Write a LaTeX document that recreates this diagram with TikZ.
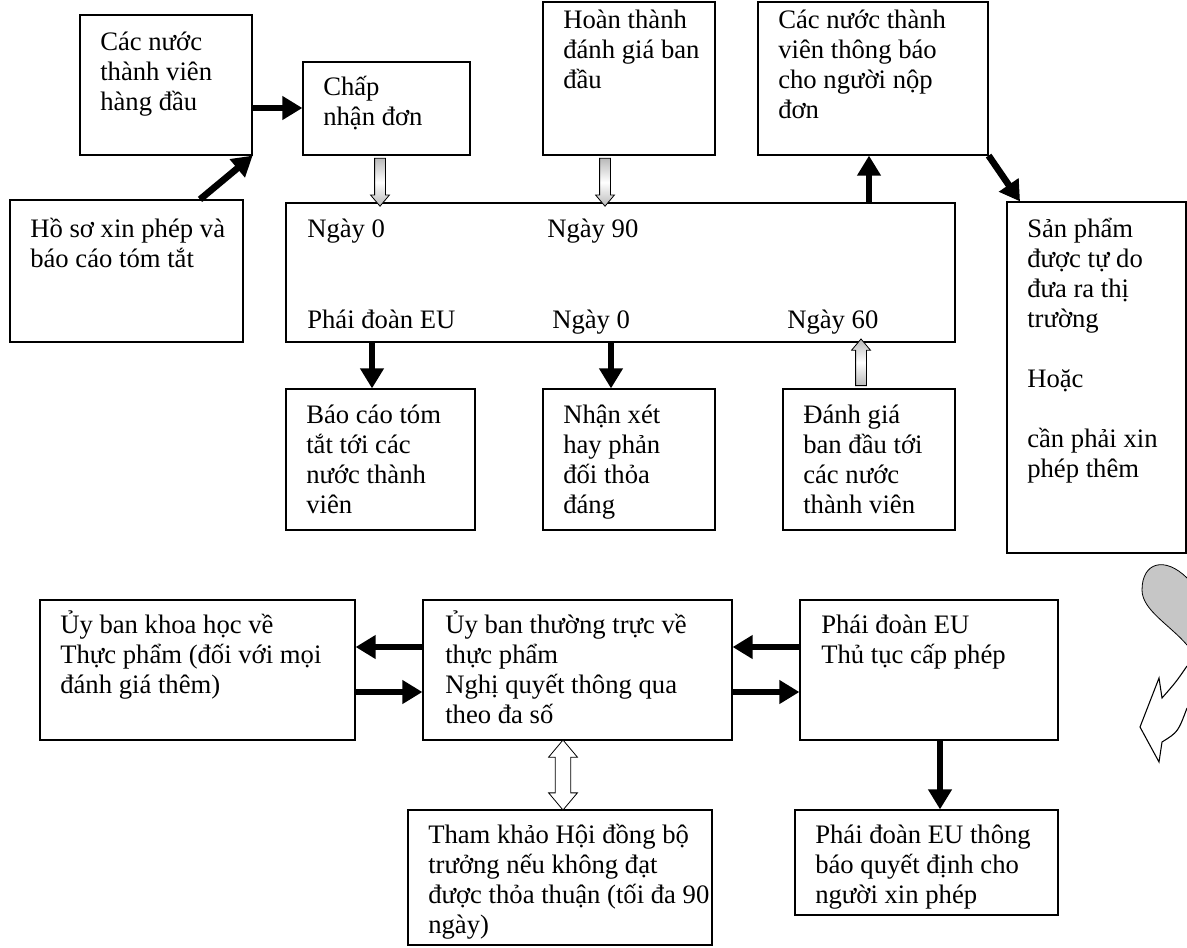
\documentclass[tikz,border=0pt]{standalone}
\usepackage{fontspec}
\setmainfont{Liberation Serif}
\usetikzlibrary{arrows.meta,shapes.arrows,fit,calc}
\newcommand{\lineh}[1]{\hbox{#1}}
\begin{document}
\begin{tikzpicture}[x=0.75pt,y=-0.75pt,
  bx/.style={draw, line width=0.9pt, inner sep=0pt},
  txt/.style={anchor=base west, inner sep=0pt, font=\fontsize{20}{22.5}\selectfont},
  heavy/.style={line width=5pt, -{Triangle[length=15pt,width=17pt]}},
  hv/.style={single arrow, draw, line width=0.6pt, top color=gray!55, bottom color=gray!55, middle color=white, inner xsep=0pt, inner ysep=3.75pt, single arrow head extend=3pt, single arrow tip angle=80},
  hd/.style={double arrow, draw, line width=0.6pt, fill=white, inner xsep=0pt, inner ysep=5.5pt, double arrow head extend=5pt, double arrow tip angle=80},
]
\useasboundingbox (0,0) rectangle (1187,947);

% boxes
\node[bx, fit={(80,15)(252,155)}] (A) {};
\node[bx, fit={(303,62)(470,155)}] (B) {};
\node[bx, fit={(543,2)(715,155)}] (C) {};
\node[bx, fit={(758,2)(988,155)}] (D) {};
\node[bx, fit={(10,200)(243,342)}] (E) {};
\node[bx, fit={(286,203)(955,342)}] (M) {};
\node[bx, fit={(1007,202)(1186,553)}] (S) {};
\node[bx, fit={(286,389)(475,530)}] (P1) {};
\node[bx, fit={(543,389)(715,530)}] (P2) {};
\node[bx, fit={(783,389)(955,530)}] (P3) {};
\node[bx, fit={(40,600)(355,740)}] (L) {};
\node[bx, fit={(423,600)(732,740)}] (Mid) {};
\node[bx, fit={(800,600)(1058,740)}] (R) {};
\node[bx, fit={(408,810)(712,945)}] (T) {};
\node[bx, fit={(795,810)(1058,915)}] (Q) {};

% texts
\node[txt] (tA) at (100,50) {\vtop{\lineh{Các nước}\lineh{thành viên}\lineh{hàng đầu}}};
\node[txt] (tB) at (323,95) {\vtop{\lineh{Chấp}\lineh{nhận đơn}}};
\node[txt] (tC) at (563,28) {\vtop{\lineh{Hoàn thành}\lineh{đánh giá ban}\lineh{đầu}}};
\node[txt] (tD) at (778,28) {\vtop{\lineh{Các nước thành}\lineh{viên thông báo}\lineh{cho người nộp}\lineh{đơn}}};
\node[txt] (tE) at (30,237) {\vtop{\lineh{Hồ sơ xin phép và}\lineh{báo cáo tóm tắt}}};
\node[txt] (m1) at (307,237) {Ngày 0};
\node[txt] (m2) at (547,237) {Ngày 90};
\node[txt] (m3) at (307,328) {Phái đoàn EU};
\node[txt] (m4) at (552,328) {Ngày 0};
\node[txt] (m5) at (787,328) {Ngày 60};
\node[txt] (tS) at (1027,237) {\vtop{\lineh{Sản phẩm}\lineh{được tự do}\lineh{đưa ra thị}\lineh{trường}\lineh{}\lineh{Hoặc}\lineh{}\lineh{cần phải xin}\lineh{phép thêm}}};
\node[txt] (tP1) at (306,423) {\vtop{\lineh{Báo cáo tóm}\lineh{tắt tới các}\lineh{nước thành}\lineh{viên}}};
\node[txt] (tP2) at (563,423) {\vtop{\lineh{Nhận xét}\lineh{hay phản}\lineh{đối thỏa}\lineh{đáng}}};
\node[txt] (tP3) at (803,423) {\vtop{\lineh{Đánh giá}\lineh{ban đầu tới}\lineh{các nước}\lineh{thành viên}}};
\node[txt] (tL) at (60,633) {\vtop{\lineh{Ủy ban khoa học về}\lineh{Thực phẩm (đối với mọi}\lineh{đánh giá thêm)}}};
\node[txt] (tM) at (445,633) {\vtop{\lineh{Ủy ban thường trực về}\lineh{thực phẩm}\lineh{Nghị quyết thông qua}\lineh{theo đa số}}};
\node[txt] (tR) at (821,633) {\vtop{\lineh{Phái đoàn EU}\lineh{Thủ tục cấp phép}}};
\node[txt] (tT) at (428,843) {\vtop{\lineh{Tham khảo Hội đồng bộ}\lineh{trưởng nếu không đạt}\lineh{được thỏa thuận (tối đa 90}\lineh{ngày)}}};
\node[txt] (tQ) at (815,843) {\vtop{\lineh{Phái đoàn EU thông}\lineh{báo quyết định cho}\lineh{người xin phép}}};

% heavy arrows
\draw[heavy] (A.east |- 0,108) -- (B.west |- 0,108);
\draw[heavy] (E.north -| 200,0) -- (A.south east);
\draw[heavy] (M.north -| 869,0) -- (D.south -| 869,0);
\draw[heavy] (D.south east) -- (S.north west -| 1020,0);
\draw[heavy] (M.south -| 372,0) -- (P1.north -| 372,0);
\draw[heavy] (M.south -| 611,0) -- (P2.north -| 611,0);
\draw[heavy] (R.west |- 0,647) -- (Mid.east |- 0,647);
\draw[heavy] (Mid.east |- 0,692) -- (R.west |- 0,692);
\draw[heavy] (Mid.west |- 0,647) -- (L.east |- 0,647);
\draw[heavy] (L.east |- 0,692) -- (Mid.west |- 0,692);
\draw[heavy] (R.south -| 940,0) -- (Q.north -| 940,0);

% hollow arrows
\path (B.south -| 380,0) -- (M.north -| 380,0) node[midway, hv, rotate=-90, minimum height=36pt] (h1) {};
\path (C.south -| 605,0) -- (M.north -| 605,0) node[midway, hv, rotate=-90, minimum height=36pt] (h2) {};
\path (P3.north -| 861,0) -- (M.south -| 861,0) node[midway, hv, rotate=90, minimum height=35pt] (h3) {};
\path (Mid.south -| 563,0) -- (T.north -| 563,0) node[midway, hd, rotate=90, minimum height=52.5pt] (h4) {};

% curved arrow
\fill[gray!45, draw=black, line width=0.6pt] (1187,578) .. controls (1165,556) and (1142,562) .. (1142,590) .. controls (1142,610) and (1170,625) .. (1187,645);
\filldraw[fill=white, draw=black, line width=0.8pt] (1187,666) .. controls (1176,682) .. (1162,698) -- (1159,678) -- (1140,727) -- (1159,762) -- (1162,742) .. controls (1178,732) .. (1187,708);
\end{tikzpicture}
\end{document}
